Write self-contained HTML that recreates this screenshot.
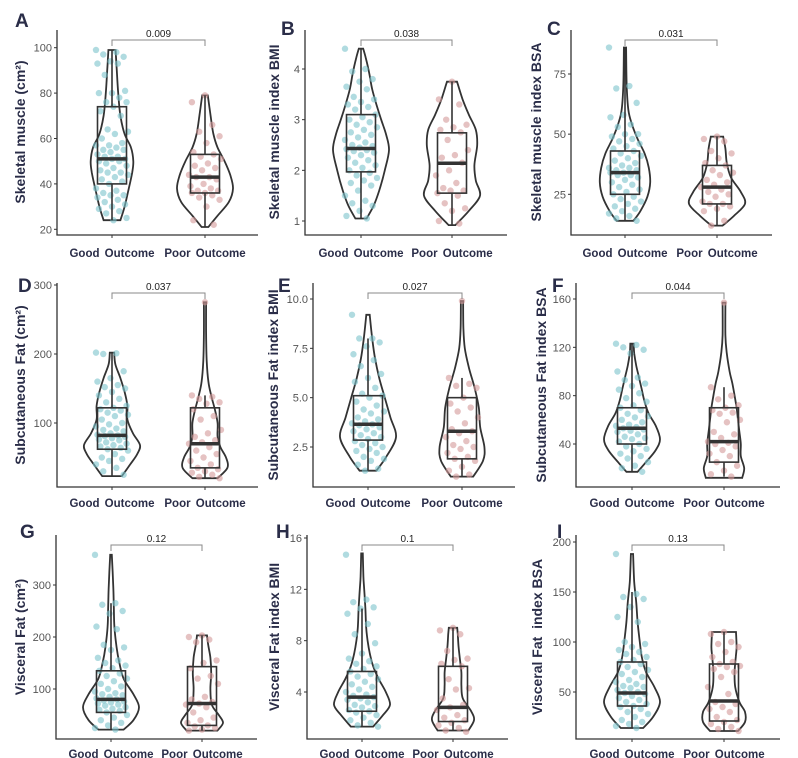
<!DOCTYPE html>
<html><head><meta charset="utf-8"><style>
body{margin:0;background:#fff}
svg{display:block;font-family:"Liberation Sans",Arial,sans-serif}
</style></head><body>
<svg id="fig" width="798" height="758" viewBox="0 0 798 758"></svg>
<script>
// ---------- data ----------
const groups = ["Good Outcome","Poor Outcome"];
const panelIds = ["A","B","C","D","E","F","G","H","I"];
const yTitles = ["Skeletal muscle (cm²)","Skeletal muscle index BMI","Skeletal muscle index BSA",
 "Subcutaneous Fat (cm²)","Subcutaneous Fat index BMI","Subcutaneous Fat index BSA",
 "Visceral Fat (cm²)","Visceral Fat index BMI","Visceral Fat\u00a0 index BSA"];
const pValues = ["0.009","0.038","0.031","0.037","0.027","0.044","0.12","0.1","0.13"];
const tickValues = [[20,40,60,80,100],[1,2,3,4],[25,50,75],[100,200,300],[2.5,5,7.5,10],[40,80,120,160],[100,200,300],[4,8,12,16],[50,100,150,200]];
const tickLabels = [["20","40","60","80","100"],["1","2","3","4"],["25","50","75"],["100","200","300"],["2.5","5.0","7.5","10.0"],["40","80","120","160"],["100","200","300"],["4","8","12","16"],["50","100","150","200"]];
// box stats: [whiskerLow, q1, median, q3, whiskerHigh]
const goodBox = [[24,40,51,74,99],[1.05,1.97,2.43,3.1,4.4],[14,25,34,43,86],[23,62,82,122,202],[1.3,2.85,3.65,5.1,8.0],[17,40,53,70,123],[22,55,80,135,265],[1.3,2.5,3.6,5.6,10.5],[14,36,49,80,150]];
const poorBox = [[21,36,43,53,79],[0.92,1.55,2.14,2.74,3.75],[12,21,28,37,49],[20,35,70,122,140],[1.0,1.9,3.3,5.0,6.0],[13,25,42,70,87],[20,30,72,143,203],[1.0,1.7,2.8,6.0,9.0],[11,21,41,78,110]];
// violin profiles: [value, relative density]
const goodViolin = [
 [[24,.3],[30,.45],[38,.6],[45,.72],[50,.76],[56,.68],[62,.45],[70,.3],[80,.22],[90,.17],[99,.13]],
 [[1.05,.2],[1.3,.45],[1.6,.65],[2.0,.85],[2.4,1],[2.7,.9],[3.0,.72],[3.3,.55],[3.6,.4],[3.9,.3],[4.2,.18],[4.4,.08]],
 [[14,.3],[18,.55],[24,.8],[30,.9],[36,.85],[42,.7],[48,.45],[54,.25],[60,.12],[70,.06],[86,.04]],
 [[23,.35],[40,.65],[55,.9],[68,1],[85,.75],[105,.55],[125,.55],[145,.45],[165,.3],[185,.12],[202,.08]],
 [[1.3,.3],[2.0,.65],[3.0,1],[4.0,.8],[5.0,.6],[6.0,.4],[7.0,.25],[8.0,.15],[9.2,.06]],
 [[17,.2],[25,.5],[35,.85],[44,1],[55,.85],[65,.6],[75,.45],[85,.35],[95,.25],[105,.15],[115,.08],[123,.06]],
 [[22,.45],[40,.8],[65,1],[90,.8],[120,.45],[150,.3],[180,.2],[220,.12],[260,.1],[300,.08],[358,.03]],
 [[1.3,.4],[2.2,.75],[3.0,1],[4.0,.85],[5.0,.6],[6.0,.4],[7.0,.28],[8.0,.2],[9.0,.15],[10.5,.12],[12,.08],[13,.05],[14.8,.03]],
 [[14,.4],[25,.75],[40,1],[55,.8],[70,.5],[85,.35],[100,.28],[120,.2],[140,.15],[160,.08],[188,.04]]];
const poorViolin = [
 [[21,.12],[26,.45],[32,.85],[38,1],[44,.9],[50,.7],[56,.45],[62,.3],[70,.2],[79,.1]],
 [[0.92,.12],[1.2,.6],[1.5,1],[1.8,.85],[2.1,.8],[2.5,.9],[2.8,.85],[3.1,.6],[3.4,.38],[3.75,.18]],
 [[12,.2],[16,.6],[21,1],[26,.85],[32,.5],[38,.35],[44,.3],[49,.22]],
 [[20,.45],[35,.8],[50,.75],[65,.55],[80,.45],[100,.45],[120,.35],[140,.22],[160,.12],[190,.06],[230,.04],[275,.04]],
 [[1.0,.4],[1.8,.75],[2.5,.8],[3.5,.65],[4.5,.6],[5.5,.45],[6.5,.25],[7.5,.1],[8.5,.05],[9.9,.04]],
 [[12,.65],[20,.72],[30,.6],[40,.6],[50,.55],[60,.5],[70,.45],[80,.38],[90,.3],[100,.2],[115,.1],[130,.05],[157,.05]],
 [[20,.55],[35,.75],[50,.6],[70,.35],[100,.3],[130,.33],[160,.3],[185,.22],[203,.18]],
 [[1.0,.55],[1.8,.75],[2.5,.65],[3.5,.35],[4.5,.3],[5.5,.3],[6.5,.25],[7.5,.2],[8.5,.17],[9.0,.15]],
 [[11,.5],[20,.75],[30,.75],[40,.55],[55,.4],[70,.38],[85,.42],[95,.45],[110,.43]]];
const goodPoints = [
 [99,98,97,96,94,93,93,88,81,80,80,78,76,76,74,72,70,64,63,62,60,58,57,57,56,55,55,54,53,52,52,51,51,50,50,49,48,47,46,45,45,44,43,42,41,40,38,37,36,35,35,34,33,32,31,30,29,28,27,25,24],
 [4.4,4.0,3.95,3.8,3.75,3.65,3.6,3.45,3.4,3.35,3.3,3.25,3.2,3.1,3.05,3.0,2.95,2.9,2.85,2.8,2.75,2.7,2.65,2.6,2.55,2.5,2.48,2.45,2.42,2.4,2.38,2.35,2.3,2.25,2.2,2.15,2.1,2.05,2.0,1.95,1.9,1.85,1.8,1.75,1.7,1.6,1.5,1.4,1.35,1.3,1.2,1.1,1.05],
 [86,70,69,63,58,57,54,53,50,50,49,48,47,46,45,44,43,42,41,40,39,38,37,36,36,35,35,34,34,33,33,32,31,30,29,28,27,26,25,24,23,22,21,20,19,18,17,16,15,14],
 [202,201,200,175,165,160,155,152,150,145,140,135,130,125,122,120,118,115,112,110,105,100,98,95,92,90,88,85,83,82,81,80,78,76,75,72,70,68,66,64,62,60,55,50,48,45,40,35,30,25],
 [9.2,8.0,8.0,7.8,7.6,7.2,6.9,6.6,6.2,6.0,5.8,5.5,5.2,5.1,5.0,4.8,4.6,4.4,4.3,4.2,4.0,3.9,3.8,3.7,3.65,3.6,3.5,3.4,3.3,3.2,3.1,3.0,2.9,2.8,2.7,2.6,2.5,2.4,2.3,2.2,2.0,1.9,1.8,1.6,1.4,1.3],
 [123,122,120,118,115,100,95,93,90,88,85,82,78,75,72,70,68,65,63,62,60,58,56,55,54,53,52,51,50,48,46,45,44,42,40,38,36,34,32,30,28,25,22,20,17],
 [358,265,262,250,245,220,215,185,180,175,160,155,150,145,140,135,130,125,120,115,110,105,100,95,92,90,88,85,82,80,78,76,74,72,70,68,65,62,60,58,55,50,45,40,35,30,25,22],
 [14.7,11.2,11.0,10.6,10.5,10.1,9.3,8.5,7.8,7.0,6.6,6.4,6.2,6.0,5.8,5.6,5.4,5.2,5.0,4.8,4.6,4.4,4.2,4.0,3.8,3.7,3.6,3.5,3.4,3.2,3.0,2.9,2.8,2.6,2.5,2.4,2.2,2.0,1.8,1.6,1.4,1.3],
 [188,148,145,143,135,125,120,100,98,95,92,90,88,85,82,80,78,75,72,70,68,65,62,60,58,56,55,54,52,50,49,48,46,44,42,40,38,36,35,33,30,28,25,22,20,18,16,14]];
const poorPoints = [
 [79,76,66,63,61,58,54,53,52,51,49,48,47,46,44,43,43,42,40,39,38,37,37,36,36,35,34,33,30,24,22],
 [3.75,3.4,3.3,3.0,2.9,2.85,2.8,2.75,2.6,2.4,2.3,2.25,2.15,2.0,1.9,1.75,1.65,1.6,1.6,1.55,1.5,1.35,1.25,1.2,1.0,0.95],
 [49,48,47,43,42,40,38,37,35,34,33,31,30,29,28,27,26,25,24,22,21,21,20,19,18,14,12],
 [275,140,138,135,130,128,120,110,105,90,85,80,75,72,70,65,60,55,50,45,40,35,33,30,28,25,22,20],
 [9.9,6.0,5.7,5.6,5.5,5.0,4.7,4.5,4.3,4.0,3.7,3.4,3.3,3.2,3.0,2.8,2.6,2.5,2.4,2.2,2.0,1.9,1.8,1.5,1.3,1.1,1.0],
 [157,87,80,77,72,70,68,66,65,60,58,50,48,45,42,41,40,38,35,32,30,25,22,18,15,13],
 [203,200,195,190,155,150,140,125,120,110,85,80,75,72,70,65,55,45,40,35,30,28,25,22,20],
 [9.0,8.8,8.5,7.2,6.6,6.5,6.2,6.0,5.0,4.3,4.2,3.5,3.0,2.8,2.6,2.2,2.0,1.8,1.6,1.4,1.2,1.0,0.9],
 [110,108,100,98,95,90,85,80,78,76,75,73,70,65,55,48,40,38,35,33,30,25,22,20,18,15,13,11]];

// ---------- layout (not data) ----------
const layout = [
 {L:57,R:258,T:30,B:235,gx:112,px:205,cal:[100,47.7,20,229.3],br:40,lx:15,ly:27,ty:132,ox:253},
 {L:305,R:507,T:30,B:235,gx:361,px:452,cal:[4,69,1,221],br:40,lx:281,ly:35,ty:132,ox:253},
 {L:571,R:772,T:30,B:235,gx:625,px:717,cal:[75,74,25,194.3],br:40,lx:547,ly:35,ty:132,ox:253},
 {L:57,R:258,T:283,B:487,gx:112,px:205,cal:[300,285,100,423],br:293,lx:18,ly:292,ty:385,ox:503},
 {L:313,R:515,T:283,B:487,gx:368,px:462,cal:[10,299,2.5,447],br:293,lx:278,ly:292,ty:385,ox:503},
 {L:576,R:780,T:283,B:487,gx:632,px:724,cal:[160,299,40,444],br:293,lx:552,ly:292,ty:385,ox:503},
 {L:56,R:257,T:535,B:739,gx:111,px:202,cal:[300,585,100,689],br:545,lx:20,ly:538,ty:637,ox:754},
 {L:307,R:508,T:535,B:739,gx:362,px:453,cal:[16,538,4,692],br:545,lx:276,ly:538,ty:637,ox:754},
 {L:576,R:780,T:535,B:739,gx:632,px:724,cal:[200,542,50,692],br:545,lx:557,ly:538,ty:637,ox:754}];
const yTitleX = [20,274,536,20,273,541,20,274,537];

const NS = "http://www.w3.org/2000/svg";
const svg = document.getElementById("fig");
function mk(tag, attrs, parent){
  const e = document.createElementNS(NS, tag);
  for (const k in attrs) e.setAttribute(k, attrs[k]);
  (parent||svg).appendChild(e); return e;
}
function smoothPath(pts){
  let d = "M"+pts[0][0].toFixed(1)+","+pts[0][1].toFixed(1);
  for (let i=0;i<pts.length-1;i++){
    const p0=pts[Math.max(0,i-1)],p1=pts[i],p2=pts[i+1],p3=pts[Math.min(pts.length-1,i+2)];
    const c1=[p1[0]+(p2[0]-p0[0])/6,p1[1]+(p2[1]-p0[1])/6];
    const c2=[p2[0]-(p3[0]-p1[0])/6,p2[1]-(p3[1]-p1[1])/6];
    d+=" C"+c1[0].toFixed(1)+","+c1[1].toFixed(1)+" "+c2[0].toFixed(1)+","+c2[1].toFixed(1)+" "+p2[0].toFixed(1)+","+p2[1].toFixed(1);
  }
  return d;
}
const INK="#333", NAVY="#2a2d48";
const HALF=28, BOXH=14.5;

panelIds.forEach((id, k) => {
  const g0 = layout[k];
  const [v0,p0,v1,p1] = g0.cal;
  const y = v => p0 + (v - v0) * (p1 - p0) / (v1 - v0);
  const grp = mk("g", {});
  
  

  const lt = mk("text",{x:g0.lx,y:g0.ly,"font-size":19,"font-weight":"bold",fill:NAVY},grp);
  lt.textContent = id;
  
  

  const ax = mk("path",{d:`M${g0.L},${g0.T} V${g0.B} H${g0.R}`,stroke:INK,"stroke-width":1.3,fill:"none"},grp);
  
  
  tickValues[k].forEach((tv, i) => {
    const ty = y(tv);
    const tk = mk("line",{x1:g0.L-3,x2:g0.L,y1:ty,y2:ty,stroke:INK,"stroke-width":1},grp);
    
    
    const tl = mk("text",{x:g0.L-5,y:ty+4,"font-size":11,fill:"#555","text-anchor":"end"},grp);
    tl.textContent = tickLabels[k][i];
    
    
  });
  const yt = mk("text",{x:0,y:0,"font-size":14,"font-weight":"bold",fill:NAVY,"text-anchor":"middle",
    transform:`translate(${yTitleX[k]+5},${g0.ty}) rotate(-90)`},grp);
  yt.textContent = yTitles[k];
  
  

  const sets = [
    {cx:g0.gx, box:goodBox[k], vio:goodViolin[k], pts:goodPoints[k], col:"#7cc3cc", name:"good"},
    {cx:g0.px, box:poorBox[k], vio:poorViolin[k], pts:poorPoints[k], col:"#d49a9a", name:"poor"}];
  sets.forEach((s, gi) => {
    const xt = mk("line",{x1:s.cx,x2:s.cx,y1:g0.B,y2:g0.B+3,stroke:INK,"stroke-width":1},grp);
    
    
    const xl = mk("text",{x:s.cx,y:g0.ox+4,"font-size":11.5,"font-weight":"bold","word-spacing":2,fill:NAVY,"text-anchor":"middle"},grp);
    xl.textContent = groups[gi];
    
    

    const right = s.vio.map(p => [s.cx + p[1]*HALF, y(p[0])]);
    const left = s.vio.slice().reverse().map(p => [s.cx - p[1]*HALF, y(p[0])]);
    let d = smoothPath(right);
    d += " L" + left[0][0].toFixed(1)+","+left[0][1].toFixed(1) + smoothPath(left).replace(/^M[^ ]+/, "") + " Z";
    const vp = mk("path",{d:d,fill:"none",stroke:INK,"stroke-width":1.8},grp);
    
    

    s.pts.forEach((v, i) => {
      const jx = (((i*37 + gi*11) % 23) - 11) / 11 * 16;
      const c = mk("circle",{cx:s.cx+jx,cy:y(v),r:3.2,fill:s.col,"fill-opacity":0.6},grp);
      
      
    });

    const [wl,q1,md,q3,wh] = s.box;
    const w1 = mk("line",{x1:s.cx,x2:s.cx,y1:y(wh),y2:y(q3),stroke:INK,"stroke-width":1.6},grp);
    
    
    const w2 = mk("line",{x1:s.cx,x2:s.cx,y1:y(q1),y2:y(wl),stroke:INK,"stroke-width":1.6},grp);
    
    
    const bx = mk("rect",{x:s.cx-BOXH,y:y(q3),width:BOXH*2,height:y(q1)-y(q3),fill:"none",stroke:INK,"stroke-width":1.6},grp);
    
    
    const ml = mk("line",{x1:s.cx-BOXH,x2:s.cx+BOXH,y1:y(md),y2:y(md),stroke:INK,"stroke-width":3.5},grp);
    
    
  });

  const bp = mk("path",{d:`M${g0.gx},${g0.br+6} V${g0.br} H${g0.px} V${g0.br+6}`,fill:"none",stroke:"#888","stroke-width":1},grp);
  
  
  const pt = mk("text",{x:(g0.gx+g0.px)/2,y:g0.br-3,"font-size":10,fill:"#222","text-anchor":"middle"},grp);
  pt.textContent = pValues[k];
  
  
});
</script>
</body></html>
